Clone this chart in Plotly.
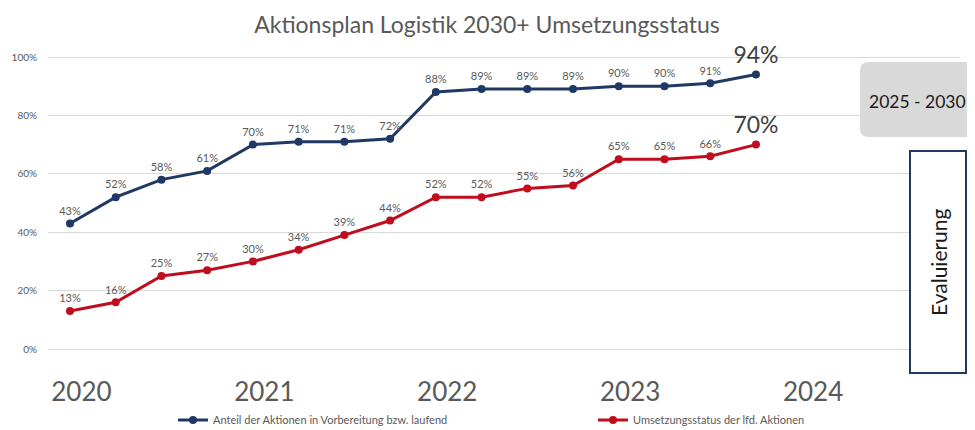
import plotly.graph_objects as go

# ---- data ----
quarters = list(range(16))
anteil_vorbereitung = [43, 52, 58, 61, 70, 71, 71, 72, 88, 89, 89, 89, 90, 90, 91, 94]
umsetzungsstatus = [13, 16, 25, 27, 30, 34, 39, 44, 52, 52, 55, 56, 65, 65, 66, 70]
year_labels = ["2020", "2021", "2022", "2023", "2024"]
year_positions = [0.25, 4.25, 8.25, 12.25, 16.25]
y_ticks = [0, 20, 40, 60, 80, 100]
y_ticklabels = [f"{v}%" for v in y_ticks]
series_names = ["Anteil der Aktionen in Vorbereitung bzw. laufend",
                "Umsetzungsstatus der lfd. Aktionen"]

# ---- layout geometry (page body has an 8px margin) ----
OFF = 8
W, H = 975 - OFF, 430 - OFF
# plot area in reference pixels: x 48..960, y 40..368
L, R, T, B = 48 - OFF, 975 - 960, 40 - OFF, 430 - 368
PW, PH = W - L - R, H - T - B
FONT = "Lato"
GREY = "#595959"
NAVY = "#1f3864"
RED = "#c00d1e"

def px(xp):
    return (xp - OFF - L) / PW

def py(yp):
    return (H - B - (yp - OFF)) / PH

def labels(vals):
    return [f"{v}%" for v in vals]

def sizes(vals):
    return [11] * (len(vals) - 1) + [23]

def colors(vals):
    return [GREY] * (len(vals) - 1) + ["#404040"]

fig = go.Figure()
for vals, name, col in [(anteil_vorbereitung, series_names[0], NAVY),
                        (umsetzungsstatus, series_names[1], RED)]:
    fig.add_trace(go.Scatter(
        x=quarters, y=vals, name=name, mode="lines+markers+text",
        line=dict(color=col, width=3), marker=dict(color=col, size=8),
        text=labels(vals), textposition="top center",
        textfont=dict(size=sizes(vals), color=colors(vals), family=FONT),
        cliponaxis=False,
    ))

# rounded grey box
x0, x1, y0, y1 = px(860), px(990), py(137), py(62)
rx, ry = 9 / PW, 9 / PH
path = (f"M {x0+rx},{y0} L {x1-rx},{y0} Q {x1},{y0} {x1},{y0+ry} "
        f"L {x1},{y1-ry} Q {x1},{y1} {x1-rx},{y1} L {x0+rx},{y1} "
        f"Q {x0},{y1} {x0},{y1-ry} L {x0},{y0+ry} Q {x0},{y0} {x0+rx},{y0} Z")
fig.add_shape(type="path", path=path, xref="paper", yref="paper",
              fillcolor="#d9d9d9", line=dict(width=0), layer="above")
fig.add_shape(type="rect", xref="paper", yref="paper",
              x0=px(910), x1=px(966), y0=py(373), y1=py(151),
              fillcolor="white", line=dict(color=NAVY, width=2), layer="above")
fig.add_annotation(x=px(968), y=py(101), xref="paper", yref="paper",
                   xanchor="right", yanchor="middle",
                   text="2025 - 2030", showarrow=False,
                   font=dict(size=17.5, color="#1a1a1a", family=FONT))
fig.add_annotation(x=px(939), y=py(262), xref="paper", yref="paper",
                   xanchor="center", yanchor="middle",
                   text="Evaluierung", showarrow=False, textangle=-90,
                   font=dict(size=21, color="#1a1a1a", family=FONT))

fig.update_layout(
    width=W, height=H,
    margin=dict(l=L, r=R, t=T, b=B, autoexpand=False),
    paper_bgcolor="white", plot_bgcolor="white",
    font=dict(family=FONT, color=GREY),
    title=dict(text="Aktionsplan Logistik 2030+ Umsetzungsstatus",
               x=px(487), xref="paper", xanchor="center",
               y=1 - (25 - OFF) / H, yanchor="middle",
               font=dict(size=23, color=GREY, family=FONT)),
    showlegend=True,
    legend=dict(orientation="h", x=px(173), y=py(420), xanchor="left", yanchor="middle",
                font=dict(size=11, color=GREY, family=FONT),
                entrywidth=375, entrywidthmode="pixels", bgcolor="rgba(0,0,0,0)"),
    xaxis=dict(range=[(48 - 70) / 45.73, (960 - 70) / 45.73],
               tickvals=year_positions, ticktext=year_labels,
               tickfont=dict(size=26, color=GREY, family=FONT),
               showgrid=False, zeroline=False, showline=False, ticks="",
               ticklabelstandoff=6),
    yaxis=dict(range=[-(368 - 349) / 2.92, (349 - 40) / 2.92],
               tickvals=y_ticks, ticktext=y_ticklabels,
               tickfont=dict(size=10, color=GREY, family=FONT),
               showgrid=True, gridcolor="#d9d9d9", gridwidth=1,
               zeroline=False, showline=False, ticks="", ticklabelstandoff=10),
)

fig.write_html("out.html")
